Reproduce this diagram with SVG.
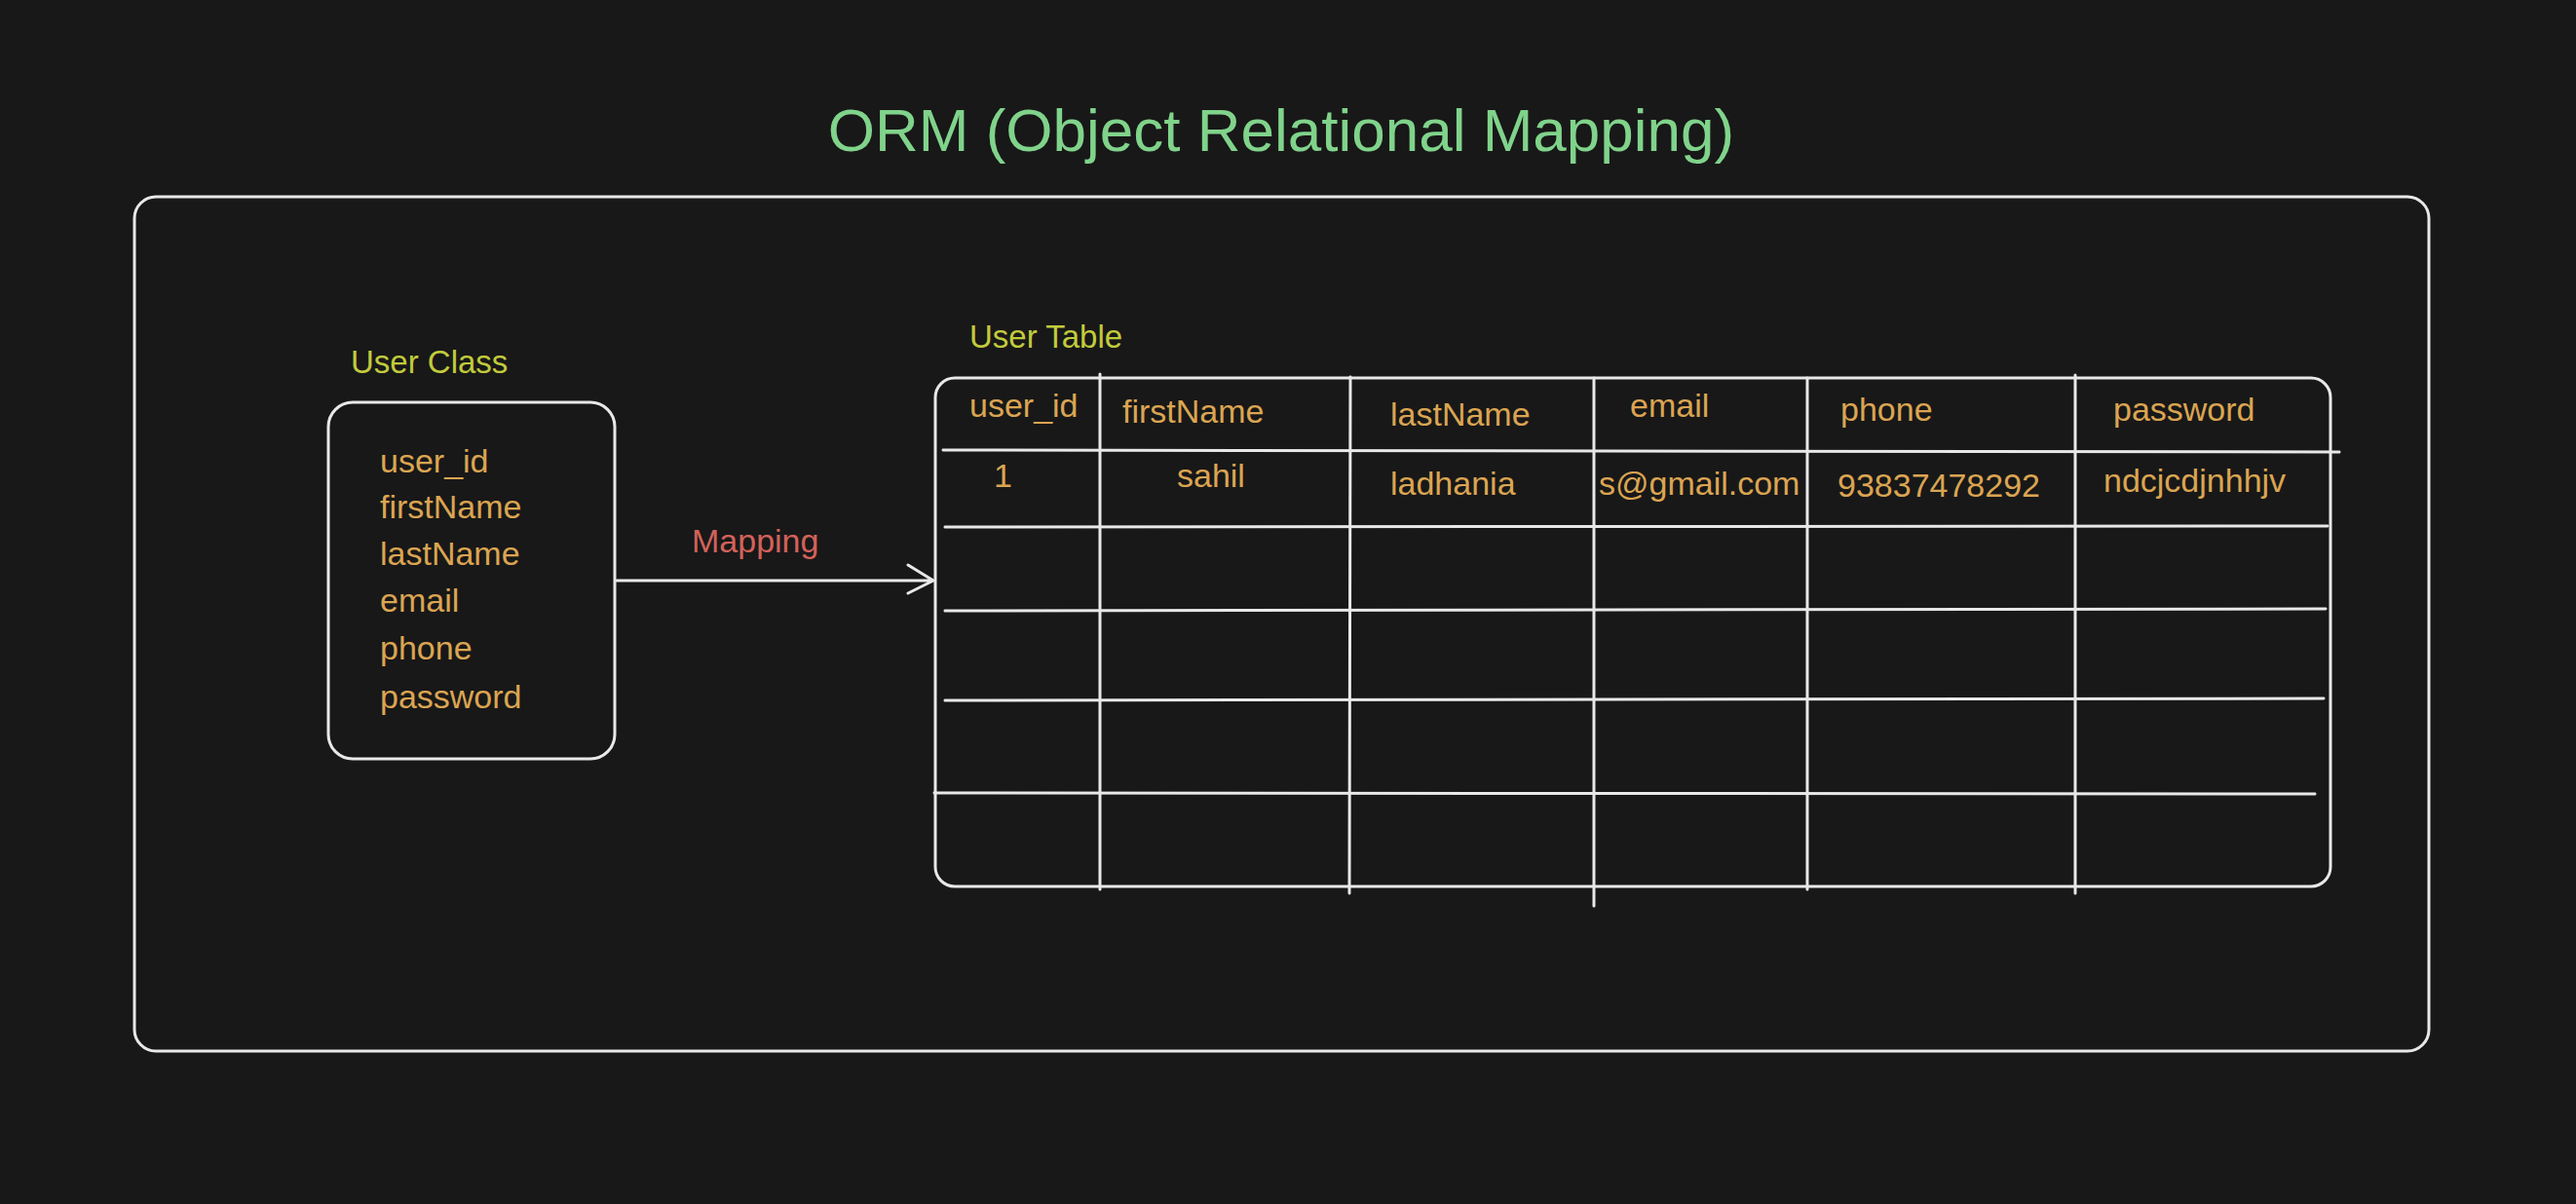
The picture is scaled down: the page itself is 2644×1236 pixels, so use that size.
<svg xmlns="http://www.w3.org/2000/svg" width="2644" height="1236" viewBox="0 0 2644 1236">
<style>
.ln{fill:none;stroke:#e8e8e8;stroke-width:3;stroke-linecap:round;stroke-linejoin:round}
text{font-family:"Liberation Sans",Arial,sans-serif}
.f{font-size:34px;fill:#dba552}
.lbl{font-size:33px;fill:#c2cb3c}
</style>
<rect width="2644" height="1236" fill="#181818"/>
<text x="1315" y="155" text-anchor="middle" font-size="62" fill="#80d38b">ORM (Object Relational Mapping)</text>
<g id="frame"><rect class="ln" x="138" y="202" width="2355" height="877" rx="22"/></g>
<g id="user-class">
<text class="lbl" x="360" y="383">User Class</text>
<rect class="ln" x="337" y="413" width="294" height="366" rx="25"/>
<text class="f" x="390" y="485">user_id</text>
<text class="f" x="390" y="532">firstName</text>
<text class="f" x="390" y="580">lastName</text>
<text class="f" x="390" y="628">email</text>
<text class="f" x="390" y="677">phone</text>
<text class="f" x="390" y="727">password</text>
</g>
<g id="connectors">
<path class="ln" d="M633 596 L958 596 M932 580 L958 596 L932 609"/>
<text x="710" y="567" font-size="34" fill="#d2625a">Mapping</text>
</g>
<g id="user-table">
<text class="lbl" x="995" y="357">User Table</text>
<rect class="ln" x="960" y="388" width="1432" height="522" rx="20"/>
<path class="ln" d="M968 462 L2401 464 M970 541 L2389 540 M970 627 L2387 625 M970 719 L2385 717 M959 814 L2376 815"/>
<path class="ln" d="M1129 384 L1129 913 M1386 387 L1385 917 M1636 388 L1636 930 M1855 388 L1855 913 M2130 385 L2130 917"/>
<text class="f" x="995" y="428">user_id</text>
<text class="f" x="1152" y="434">firstName</text>
<text class="f" x="1427" y="437">lastName</text>
<text class="f" x="1673" y="428">email</text>
<text class="f" x="1889" y="432">phone</text>
<text class="f" x="2169" y="432">password</text>
<text class="f" x="1020" y="500">1</text>
<text class="f" x="1208" y="500">sahil</text>
<text class="f" x="1427" y="508">ladhania</text>
<text class="f" x="1641" y="508">s@gmail.com</text>
<text class="f" x="1886" y="510">93837478292</text>
<text class="f" x="2159" y="505">ndcjcdjnhhjv</text>
</g>
</svg>
